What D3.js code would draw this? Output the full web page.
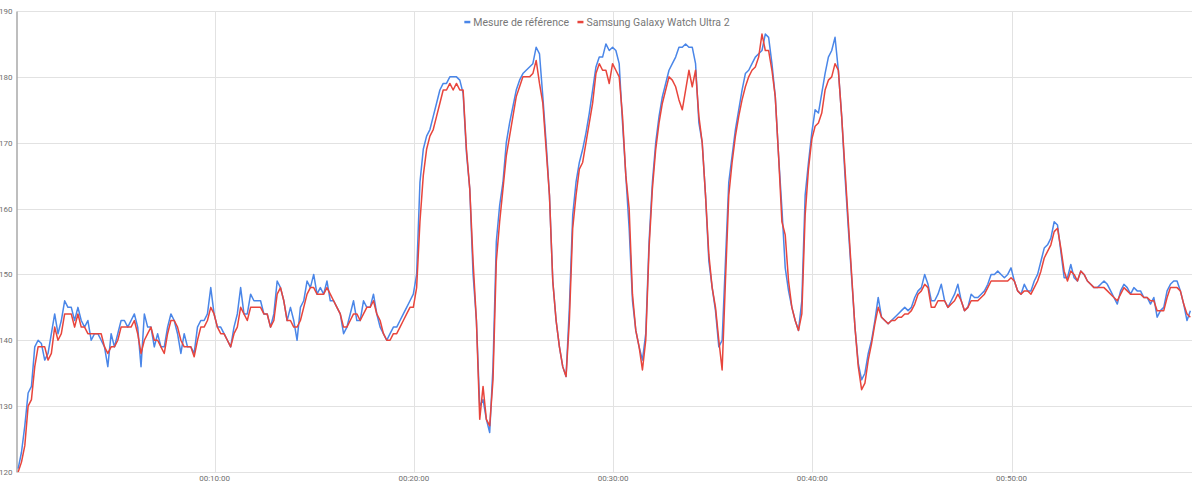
<!DOCTYPE html>
<html>
<head>
<meta charset="utf-8">
<script src="https://cdnjs.cloudflare.com/ajax/libs/d3/7.8.5/d3.min.js"></script>
<style>
body { margin: 0; background: #fff; }
svg { display: block; font-family: Roboto, "Liberation Sans", Arial, sans-serif; }
.grid line { stroke: #e2e2e2; stroke-width: 1; shape-rendering: crispEdges; }
.axis text { fill: #6f6f6f; font-size: 8px; }
.axis--x .domain { display: none; }
.axis--y .domain { stroke: #a9a9a9; stroke-width: 1.5; }
.line { fill: none; stroke-width: 1.5; stroke-linejoin: round; }
.legend text { fill: #777; font-size: 10.5px; }
</style>
</head>
<body>
<svg width="1200" height="485"></svg>
<script>
// samples every 10 s, first one at 00:00:10 (one row = one minute)
var startSec = 10;
var stepSec = 10;

var seriesNames = ["Mesure de référence", "Samsung Galaxy Watch Ultra 2"];
var seriesColors = ["#4a86e8", "#e8453c"];

var refValues = [
    120.5, 123, 127, 132, 133, 139,
    140, 139.5, 137, 138, 141, 144,
    141, 143, 146, 145, 145, 143,
    145, 143, 142, 143, 140, 141,
    141, 140, 139, 136, 141, 139,
    141, 143, 143, 142, 143, 144,
    142, 136, 144, 142, 142, 139,
    141, 139, 139, 142, 144, 143,
    141, 138, 141, 139, 139, 138,
    142, 143, 143, 144, 148, 144,
    142, 142, 141, 140, 139, 142,
    144, 148, 144, 144, 147, 146,
    146, 146, 144, 144, 142, 144,
    149, 148, 146, 143, 145, 143,
    140, 145, 146, 149, 148, 150,
    147, 148, 147, 149, 146, 146,
    145, 144, 141, 142, 144, 146,
    143, 143, 146, 145, 145, 147,
    144, 142, 141, 140, 141, 142,
    142, 143, 144, 145, 146, 147,
    150, 164, 169, 171, 172, 174,
    176, 178, 179, 179, 180, 180,
    180, 179.5, 177.5, 168.5, 163, 150,
    143, 130, 131, 128, 126, 136,
    155, 160.5, 164, 170, 173, 175.5,
    178, 179.5, 180.5, 181, 181.5, 182,
    184.5, 183.5, 177, 170, 162, 149,
    143, 139, 136, 134.5, 145, 159,
    164, 167, 169, 171.5, 174.5, 178,
    181.5, 183, 183, 185, 184, 184.5,
    184, 182, 173, 165, 157, 146,
    141.5, 139, 137, 141, 155, 164,
    170, 174, 177, 179, 181, 182,
    183, 184.5, 184.5, 185, 184.5, 184.5,
    182, 173, 170, 162, 152, 148,
    144.5, 139, 140, 152, 164, 168,
    172, 175, 178, 180.5, 181, 182,
    183, 183.5, 184, 186.5, 186, 182,
    177, 168, 160, 151, 147.5, 145,
    143, 141.5, 146, 162, 167, 171.5,
    175, 174.5, 177.5, 180.5, 183, 184,
    186, 181, 174, 165, 157, 149.5,
    142, 136.5, 134, 135, 138, 140,
    143, 146.5, 143.5, 143, 142.5, 143,
    143.5, 144, 144.5, 145, 144.5, 145,
    146.5, 147.5, 148, 150, 148.5, 146,
    146, 147, 148.5, 146, 145, 146,
    147, 148.5, 146, 144.5, 145, 147,
    146.5, 146.5, 147, 147.5, 148.5, 150,
    150, 150.5, 150, 149.5, 150, 151,
    149, 147.5, 147, 148.5, 147.5, 147.5,
    149, 150, 152, 154, 154.5, 155.5,
    158, 157.5, 153.5, 149.5, 149.5, 151.5,
    149.5, 149, 150.5, 150, 149, 148.5,
    148, 148, 148.5, 149, 148.5, 147.5,
    146.5, 145.5, 147.5, 148.5, 148, 147,
    148, 147.5, 147.5, 146.5, 146.5, 145.5,
    146.5, 143.5, 144.5, 145, 147.5, 148.5,
    149, 149, 147.5, 145.5, 143, 144.5
];

var watchValues = [
    120, 121.5, 124, 130, 131, 136,
    139, 139, 139, 137, 138, 142,
    140, 141, 144, 144, 144, 142,
    144, 142, 142, 141, 141, 141,
    141, 141, 139, 138, 139, 139,
    140, 142, 142, 142, 142, 143,
    141, 138, 140, 141, 142, 140,
    140, 139, 138, 141, 143, 143,
    142, 140, 139, 139, 139, 137.5,
    140, 142, 142, 143, 145, 144,
    142, 141, 141, 140, 139, 141,
    142, 145, 144, 143, 145, 145,
    145, 145, 144, 144, 142, 143,
    147, 148, 146, 143, 143, 142,
    142, 143, 145, 147, 148, 148,
    147, 147, 147, 148, 147, 146,
    145, 144, 142, 142, 143, 144,
    144, 143, 144, 145, 145, 146,
    144, 143, 141, 140, 140, 141,
    141, 142, 143, 144, 145, 145,
    148, 158, 165, 169, 171, 172,
    174, 176, 178, 178, 179, 178,
    179, 178, 178, 169, 163, 152,
    143, 128, 133, 128, 127, 134,
    152, 158, 163, 168, 171, 174,
    177, 178.5, 180, 180, 180, 180.5,
    182.5, 179, 176, 169, 162, 149,
    143, 139, 136, 134.5, 143, 157,
    162, 166, 167, 170, 173, 176,
    180.5, 182, 181, 181, 179, 182,
    181, 180, 174, 165, 160, 147,
    141.5, 139, 135.5, 140, 154, 163,
    169, 173, 176, 178, 180, 179.5,
    178.5, 176.5, 175, 178, 181, 178.5,
    181, 174, 170, 162, 153, 148,
    145, 140, 135.5, 149, 162, 167,
    171, 174, 176.5, 178.5, 180, 181,
    181.5, 183, 186.5, 184, 184, 181,
    177, 168, 158, 156, 149, 145,
    143, 141.5, 144, 159, 166, 170.5,
    172.5, 173, 174.5, 178, 179.5, 180,
    182, 181, 174, 166, 158, 150,
    142, 136, 132.5, 133.5, 137, 139.5,
    142.5, 145, 143.5, 143, 142.5, 143,
    143, 143.5, 143.5, 144, 144, 144.5,
    145.5, 147, 147.5, 148.5, 148, 145,
    145, 146, 146, 146, 145, 145.5,
    146, 147, 146, 144.5, 145, 146,
    146, 146, 146.5, 147, 148, 149,
    149, 149, 149, 149, 149, 149.5,
    149, 147.5, 147, 147.5, 147.5, 147,
    148, 149, 150.5, 152.5, 153.5, 154.5,
    156.5, 157, 154, 150.5, 149, 150.5,
    150, 149, 150.5, 150, 149, 148.5,
    148, 148, 148, 148, 147.5, 147,
    146.5, 146, 147, 148, 147.5, 147,
    147, 147, 147, 146.5, 146.5, 146,
    146, 144.5, 144.5, 144.5, 146.5, 148,
    148, 148, 147.5, 145.5, 144, 143.5
];

var yTicks = [120, 130, 140, 150, 160, 170, 180, 190];
var xTickSeconds = [600, 1200, 1800, 2400, 3000];
var xTickLabels = ["00:10:00", "00:20:00", "00:30:00", "00:40:00", "00:50:00"];

var svg = d3.select("svg"),
    margin = {top: 11, right: 8, bottom: 13, left: 16.5},
    width = +svg.attr("width") - margin.left - margin.right,
    height = +svg.attr("height") - margin.top - margin.bottom,
    g = svg.append("g").attr("transform", "translate(" + margin.left + "," + margin.top + ")");

var x = d3.scaleLinear()
    .domain([5, 3545])
    .range([0, width]);

var y = d3.scaleLinear()
    .domain([120, 190])
    .range([height, 0]);

// grid
g.append("g")
    .attr("class", "grid")
  .selectAll("line.h")
    .data(yTicks)
  .enter().append("line")
    .attr("x1", 0)
    .attr("x2", width)
    .attr("y1", function(d) { return Math.round(y(d)) + 0.5; })
    .attr("y2", function(d) { return Math.round(y(d)) + 0.5; });

g.append("g")
    .attr("class", "grid")
  .selectAll("line.v")
    .data(xTickSeconds)
  .enter().append("line")
    .attr("x1", function(d) { return Math.round(x(d)) + 0.5; })
    .attr("x2", function(d) { return Math.round(x(d)) + 0.5; })
    .attr("y1", 0)
    .attr("y2", height);

// axes
g.append("g")
    .attr("class", "axis axis--x")
    .attr("transform", "translate(0," + height + ")")
    .call(d3.axisBottom(x)
        .tickValues(xTickSeconds)
        .tickFormat(function(d, i) { return xTickLabels[i]; })
        .tickSize(0)
        .tickPadding(3));

g.append("g")
    .attr("class", "axis axis--y")
    .call(d3.axisLeft(y)
        .tickValues(yTicks)
        .tickSize(0)
        .tickPadding(4));

g.selectAll(".axis").attr("font-family", null).attr("font-size", null);

// lines
var line = d3.line()
    .x(function(d, i) { return x(startSec + i * stepSec); })
    .y(function(d) { return y(d); });

[refValues, watchValues].forEach(function(vals, k) {
    g.append("path")
        .datum(vals)
        .attr("class", "line")
        .attr("stroke", seriesColors[k])
        .attr("d", line);
});

// legend
var legend = svg.append("g").attr("class", "legend");
var items = legend.selectAll("g")
    .data(seriesNames)
  .enter().append("g");

items.append("rect")
    .attr("width", 6)
    .attr("height", 2.5)
    .attr("y", -1.2)
    .attr("fill", function(d, i) { return seriesColors[i]; });

items.append("text")
    .attr("x", 9)
    .attr("dy", "0.35em")
    .text(function(d) { return d; });

var xpos = 0;
items.each(function() {
    var w = this.getBBox().width;
    d3.select(this).attr("transform", "translate(" + xpos + ",0)");
    xpos += w + 8;
});
var totalW = xpos - 8;
legend.attr("transform", "translate(" + (597 - totalW / 2) + ",22)");
</script>
</body>
</html>
